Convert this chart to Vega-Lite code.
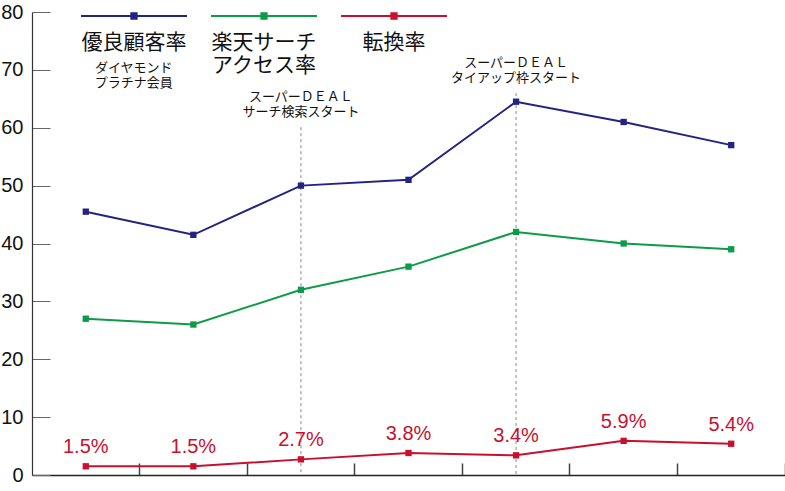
{
  "$schema": "https://vega.github.io/schema/vega-lite/v6.json",
  "width": 753,
  "height": 463,
  "padding": {"left": 32, "top": 12, "right": 0, "bottom": 16},
  "autosize": {"type": "none"},
  "background": "white",
  "config": {"view": {"stroke": null}, "font": "Liberation Sans"},
  "datasets": {
    "series": [
      {"period": "P1", "series": "優良顧客率", "value": 45.5},
      {"period": "P2", "series": "優良顧客率", "value": 41.5},
      {"period": "P3", "series": "優良顧客率", "value": 50},
      {"period": "P4", "series": "優良顧客率", "value": 51},
      {"period": "P5", "series": "優良顧客率", "value": 64.5},
      {"period": "P6", "series": "優良顧客率", "value": 61},
      {"period": "P7", "series": "優良顧客率", "value": 57},
      {"period": "P1", "series": "楽天サーチアクセス率", "value": 27},
      {"period": "P2", "series": "楽天サーチアクセス率", "value": 26},
      {"period": "P3", "series": "楽天サーチアクセス率", "value": 32},
      {"period": "P4", "series": "楽天サーチアクセス率", "value": 36},
      {"period": "P5", "series": "楽天サーチアクセス率", "value": 42},
      {"period": "P6", "series": "楽天サーチアクセス率", "value": 40},
      {"period": "P7", "series": "楽天サーチアクセス率", "value": 39},
      {"period": "P1", "series": "転換率", "value": 1.5, "label": "1.5%"},
      {"period": "P2", "series": "転換率", "value": 1.5, "label": "1.5%"},
      {"period": "P3", "series": "転換率", "value": 2.7, "label": "2.7%"},
      {"period": "P4", "series": "転換率", "value": 3.8, "label": "3.8%"},
      {"period": "P5", "series": "転換率", "value": 3.4, "label": "3.4%"},
      {"period": "P6", "series": "転換率", "value": 5.9, "label": "5.9%"},
      {"period": "P7", "series": "転換率", "value": 5.4, "label": "5.4%"}
    ],
    "markers": [
      {"period": "P3", "top": 60.1},
      {"period": "P5", "top": 66}
    ],
    "notes": [
      {"period": "P3", "value": 66.4, "text": ["スーパーＤＥＡＬ", "サーチ検索スタート"]},
      {"period": "P5", "value": 72.3, "text": ["スーパーＤＥＡＬ", "タイアップ枠スタート"]}
    ],
    "diamond": [
      {"period": "P1", "value": 71.3, "text": ["ダイヤモンド", "プラチナ会員"]}
    ]
  },
  "layer": [
    {
      "data": {"name": "markers"},
      "mark": {"type": "rule", "color": "#8a8a8a", "strokeWidth": 1, "strokeDash": [3, 3]},
      "encoding": {
        "x": {"field": "period", "type": "ordinal"},
        "y": {"field": "top", "type": "quantitative"},
        "y2": {"datum": 0}
      }
    },
    {
      "data": {"name": "series"},
      "mark": {"type": "line", "strokeWidth": 2, "point": {"shape": "square", "filled": true, "size": 40, "opacity": 1}},
      "encoding": {
        "x": {
          "field": "period", "type": "ordinal",
          "scale": {"type": "band", "paddingInner": 0, "paddingOuter": 0, "domain": ["P1", "P2", "P3", "P4", "P5", "P6", "P7"]},
          "axis": {"labels": false, "title": null, "bandPosition": 1, "tickSize": -12, "tickColor": "#444", "tickWidth": 1.5, "domainColor": "#222", "domainWidth": 1.5}
        },
        "y": {
          "field": "value", "type": "quantitative",
          "scale": {"domain": [0, 80], "nice": false},
          "axis": {"values": [0, 10, 20, 30, 40, 50, 60, 70, 80], "grid": false, "title": null, "tickSize": -18, "labelPadding": 27, "labelFontSize": 20, "labelFont": "Liberation Sans", "labelColor": "#111", "tickColor": "#666", "domainColor": "#333", "domainWidth": 1.2}
        },
        "color": {
          "field": "series", "type": "nominal",
          "scale": {"domain": ["優良顧客率", "楽天サーチアクセス率", "転換率"], "range": ["#232383", "#0d9b48", "#c8102e"]},
          "legend": {
            "orient": "none", "legendX": 48, "legendY": -50, "direction": "horizontal", "title": null,
            "symbolType": "M-1,0H1M-0.05,-0.05H0.05V0.05H-0.05Z", "symbolSize": 11236, "symbolStrokeWidth": 2,
            "labelFont": "Noto Sans CJK JP", "labelFontSize": 21, "labelColor": "#111", "labelAlign": "center",
            "labelOffset": -54, "labelBaseline": "top", "labelLimit": 0, "columnPadding": 16, "padding": 0,
            "labelExpr": "datum.label == '楽天サーチアクセス率' ? ['楽天サーチ', 'アクセス率'] : [datum.label, ' ']",
            "encode": {
              "symbols": {"update": {"fill": {"scale": "color", "field": "value"}, "stroke": {"scale": "color", "field": "value"}, "opacity": {"value": 1}}},
              "labels": {"update": {"dy": {"value": 16}, "lineHeight": {"value": 23}}}
            }
          }
        }
      }
    },
    {
      "data": {"name": "series"},
      "transform": [{"filter": "datum.series == '転換率'"}],
      "mark": {"type": "text", "dy": -19, "fontSize": 20, "font": "Liberation Sans", "color": "#c8102e"},
      "encoding": {
        "x": {"field": "period", "type": "ordinal"},
        "y": {"field": "value", "type": "quantitative"},
        "text": {"field": "label"}
      }
    },
    {
      "data": {"name": "notes"},
      "mark": {"type": "text", "fontSize": 13, "font": "Noto Sans CJK JP", "baseline": "top", "align": "center", "lineHeight": 15, "color": "#111"},
      "encoding": {
        "x": {"field": "period", "type": "ordinal"},
        "y": {"field": "value", "type": "quantitative"},
        "text": {"field": "text"}
      }
    },
    {
      "data": {"name": "diamond"},
      "mark": {"type": "text", "fontSize": 13, "font": "Noto Sans CJK JP", "baseline": "top", "align": "center", "lineHeight": 15, "color": "#111", "dx": 48},
      "encoding": {
        "x": {"field": "period", "type": "ordinal"},
        "y": {"field": "value", "type": "quantitative"},
        "text": {"field": "text"}
      }
    }
  ]
}
